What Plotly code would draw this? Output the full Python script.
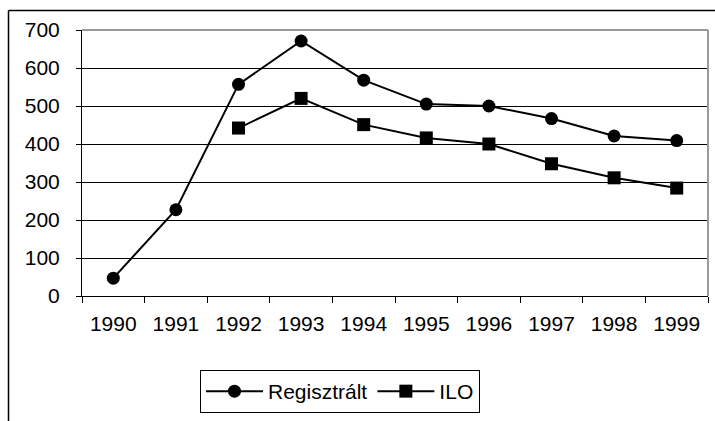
import plotly.graph_objects as go

years = ["1990", "1991", "1992", "1993", "1994", "1995", "1996", "1997", "1998", "1999"]
regisztralt = [47, 227, 557, 671, 568, 505, 500, 467, 421, 409]
ilo = [None, None, 442, 520, 451, 416, 400, 348, 311, 284]
y_ticks = [0, 100, 200, 300, 400, 500, 600, 700]

W, H = 715, 421
L, R, T, B = 82, 7, 30, 125
pw, ph = W - L - R, H - T - B

def px_x(p):
    return (p - L) / pw

def px_y(p):
    return (H - B - p) / ph

FONT = "Liberation Sans, Arial, sans-serif"
FS = 21

fig = go.Figure()
fig.add_trace(go.Scatter(
    x=years, y=regisztralt, name="Regisztrált", mode="lines+markers",
    line=dict(color="black", width=2),
    marker=dict(symbol="circle", size=13, color="black"),
))
fig.add_trace(go.Scatter(
    x=years, y=ilo, name="ILO", mode="lines+markers",
    line=dict(color="black", width=2),
    marker=dict(symbol="square", size=13, color="black"),
))

fig.update_layout(
    width=W, height=H,
    margin=dict(l=L, r=R, t=T, b=B, pad=0),
    paper_bgcolor="white", plot_bgcolor="white",
    font=dict(family=FONT, size=FS, color="black"),
    showlegend=True,
    legend=dict(
        orientation="h", x=px_x(200), y=px_y(370), xanchor="left", yanchor="top",
        bordercolor="black", borderwidth=1, bgcolor="white",
        font=dict(family=FONT, size=FS, color="black"),
        tracegroupgap=0, itemwidth=57,
    ),
    xaxis=dict(
        type="category", categoryorder="array", categoryarray=years,
        tickson="boundaries", ticks="outside", ticklen=6, tickcolor="black",
        showline=True, linecolor="black", linewidth=1,
        showgrid=False, ticklabelstandoff=9,
        tickfont=dict(family=FONT, size=FS, color="black"),
        range=[-0.5, 9.5],
    ),
    yaxis=dict(
        range=[0, 700], tickvals=y_ticks, ticks="outside", ticklen=5, tickcolor="black",
        showline=True, linecolor="black", linewidth=1,
        showgrid=True, gridcolor="black", gridwidth=1, zeroline=False,
        ticklabelstandoff=12,
        tickfont=dict(family=FONT, size=FS, color="black"),
    ),
    shapes=[
        dict(type="line", xref="paper", yref="paper", x0=0, x1=1, y0=1, y1=1,
             line=dict(color="#9a9a9a", width=2), layer="above"),
        dict(type="line", xref="paper", yref="paper", x0=1, x1=1, y0=0, y1=1,
             line=dict(color="#9a9a9a", width=2), layer="above"),
        dict(type="line", xref="paper", yref="paper", x0=px_x(8.5), x1=px_x(8.5),
             y0=px_y(10.5), y1=px_y(421), line=dict(color="black", width=1.5),
             layer="above"),
        dict(type="line", xref="paper", yref="paper", x0=px_x(8.5), x1=px_x(715),
             y0=px_y(10.5), y1=px_y(10.5), line=dict(color="black", width=1.5),
             layer="above"),
    ],
)

fig.write_html(
    "out.html",
    config={"displayModeBar": False},
    post_script="document.body.style.margin='0';document.body.style.padding='0';",
)
